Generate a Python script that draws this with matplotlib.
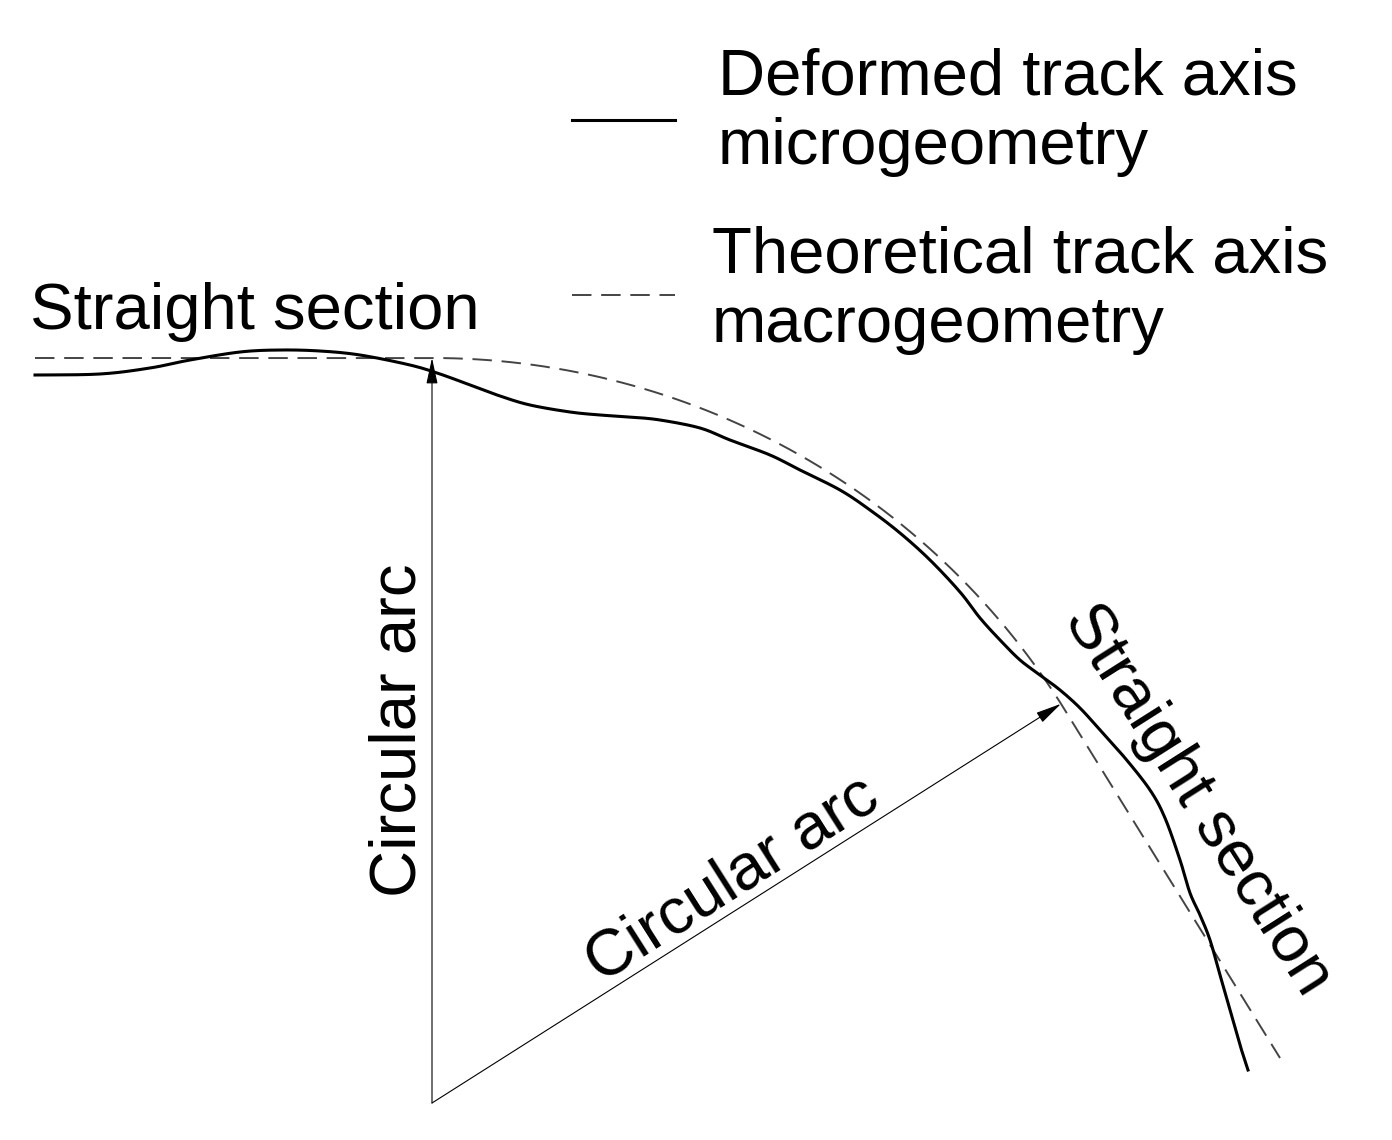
import numpy as np
import matplotlib
matplotlib.use('Agg')
import matplotlib.pyplot as plt

plt.rcParams['font.family'] = ['Liberation Sans', 'DejaVu Sans']

# geometry of the theoretical axis (pixel-like units, y down)
center = (432, 1103)
radius = 745
arc_start_deg = 90.0
arc_end_deg = 32.4
straight_start_x = 35
straight_end = (1280, 1058)

# deformed track axis
micro_x = [35, 100, 150, 190, 240, 280, 320, 360, 410, 440, 470, 500, 530, 570, 600, 630, 660, 700,
           730, 770, 800, 840, 870, 900, 930, 960, 980, 1000, 1020, 1040, 1060, 1080, 1100, 1125,
           1150, 1165, 1180, 1190, 1200, 1210, 1220, 1230, 1240, 1248]
micro_y = [375, 374, 368, 360, 352, 350, 351, 355, 365, 374, 385, 396, 405, 412, 415, 417, 420, 428,
           440, 455, 470, 490, 510, 533, 560, 592, 618, 640, 660, 675, 690, 708, 730, 758,
           790, 818, 860, 893, 915, 940, 975, 1010, 1045, 1070]


def catmull_rom(xs, ys, n=12):
    p = np.column_stack([xs, ys]).astype(float)
    p = np.vstack([p[0], p, p[-1]])
    out = []
    for i in range(1, len(p) - 2):
        p0, p1, p2, p3 = p[i - 1], p[i], p[i + 1], p[i + 2]
        for s in np.linspace(0, 1, n, endpoint=False):
            out.append(0.5 * (2 * p1 + (-p0 + p2) * s + (2 * p0 - 5 * p1 + 4 * p2 - p3) * s ** 2
                              + (-p0 + 3 * p1 - 3 * p2 + p3) * s ** 3))
    out.append(p[-2])
    out = np.array(out)
    return out[:, 0], out[:, 1]


fig = plt.figure(figsize=(13.92, 11.4), dpi=100)
ax = fig.add_axes([0, 0, 1, 1])
ax.set_xlim(0, 1392)
ax.set_ylim(1140, 0)
ax.axis('off')

dash = (0, (10, 5))

# theoretical macrogeometry
t = np.radians(np.linspace(arc_start_deg, arc_end_deg, 200))
ax_x = center[0] + radius * np.cos(t)
ax_y = center[1] - radius * np.sin(t)
th_x = np.concatenate([[straight_start_x], ax_x, [straight_end[0]]])
th_y = np.concatenate([[ax_y[0]], ax_y, [straight_end[1]]])
ax.plot(th_x, th_y, color='#444444', lw=1.4, ls=dash)

# deformed microgeometry
sx, sy = catmull_rom(micro_x, micro_y)
ax.plot(sx, sy, color='black', lw=2.2)

# radii with arrows
for ang in (arc_start_deg, arc_end_deg):
    a = np.radians(ang)
    tip = (center[0] + radius * np.cos(a), center[1] - radius * np.sin(a))
    ax.annotate('', xy=tip, xytext=center,
                arrowprops=dict(arrowstyle='-|>,head_length=1.6,head_width=0.35',
                                color='black', lw=0.8, shrinkA=0, shrinkB=0))

# legend
ax.plot([572, 675], [120, 120], color='black', lw=2.2)
ax.plot([572, 675], [295, 295], color='#444444', lw=1.4, ls=dash)
ax.text(718, 112, 'Deformed track axis\nmicrogeometry', fontsize=47, va='center', ha='left',
        linespacing=1.2)
ax.text(712, 290, 'Theoretical track axis\nmacrogeometry', fontsize=47, va='center', ha='left',
        linespacing=1.2)

# labels
ax.text(30, 312, 'Straight section', fontsize=47, va='center', ha='left')
ax.text(398, 730, 'Circular arc', fontsize=47, va='center', ha='center', rotation=90)
ax.text(732, 880, 'Circular arc', fontsize=47, va='center', ha='center', rotation=32.4)
ax.text(1198, 800, 'Straight section', fontsize=47, va='center', ha='center', rotation=-57.6)

fig.savefig('out.png', dpi=100)
